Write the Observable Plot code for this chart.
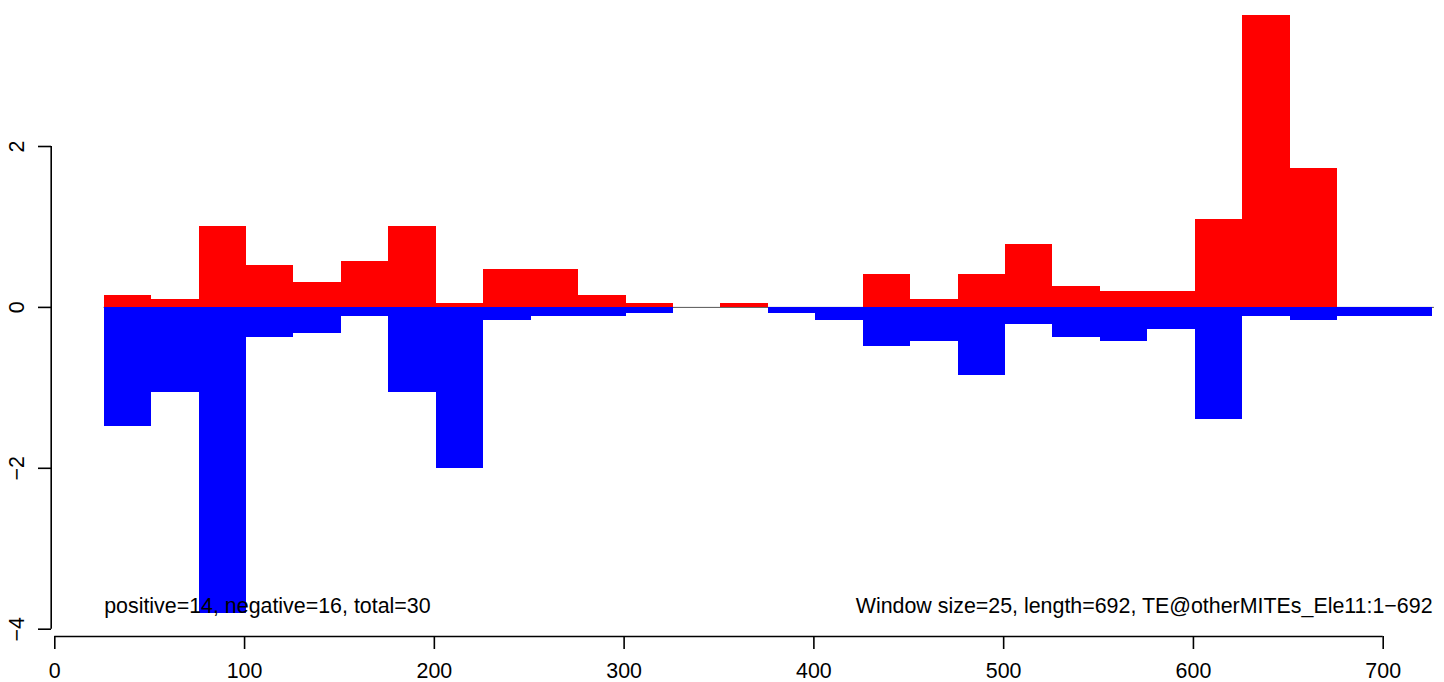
<!DOCTYPE html>
<html>
<head>
<meta charset="utf-8">
<script src="https://cdn.jsdelivr.net/npm/d3@7"></script>
<script src="https://cdn.jsdelivr.net/npm/@observablehq/plot@0.6"></script>
<style>
  html, body { margin: 0; padding: 0; background: #fff; }
  #chart svg { display: block; }
</style>
</head>
<body>
<div id="chart"></div>
<script>
// Window starts (1-based positions, window size 25)
const starts = [26, 51, 76, 101, 126, 151, 176, 201, 226, 251, 276, 301, 326, 351,
                376, 401, 426, 451, 476, 501, 526, 551, 576, 601, 626, 651, 676, 701];
const windowSize = 25;
// Positive (red) values per window
const pos = [0.15, 0.10, 1.00, 0.52, 0.31, 0.57, 1.00, 0.05, 0.47, 0.47, 0.15, 0.05, 0, 0.05,
             0, 0, 0.41, 0.10, 0.41, 0.78, 0.26, 0.20, 0.20, 1.09, 3.63, 1.73, 0, 0];
// Negative (blue) values per window
const neg = [-1.48, -1.06, -3.80, -0.38, -0.33, -0.11, -1.06, -2.00, -0.16, -0.11, -0.11, -0.07, 0, 0,
             -0.07, -0.16, -0.49, -0.43, -0.85, -0.21, -0.38, -0.43, -0.28, -1.39, -0.11, -0.16, -0.11, -0.11];
const xTicks = [0, 100, 200, 300, 400, 500, 600, 700];
const yTicks = [-4, -2, 0, 2];
const leftLabel = "positive=14, negative=16, total=30";
const rightLabel = "Window size=25, length=692, TE@otherMITEs_Ele11:1\u2212692";

const posData = starts.map((s, i) => ({x1: s, x2: s + windowSize, v: pos[i]}));
const negData = starts.map((s, i) => ({x1: s, x2: s + windowSize, v: neg[i]}));
const xEnd = starts[starts.length - 1] + windowSize;
const fmt = d => (d < 0 ? "\u2212" + Math.abs(d) : String(d));
const FS = 21.4;

const chart = Plot.plot({
  width: 1444,
  height: 682,
  marginLeft: 51,
  marginRight: 0,
  marginTop: 0,
  marginBottom: 46,
  x: {domain: [0, 700], range: [54.3, 1382.7], label: null},
  y: {domain: [-4, 2], range: [628.7, 146], label: null},
  style: {fontFamily: "'Liberation Sans', Arial, Helvetica, sans-serif", fontSize: FS + "px", background: "white", color: "black"},
  marks: [
    Plot.ruleY([0], {x1: starts[0], x2: xEnd + 1, stroke: "#555", strokeWidth: 1}),
    Plot.rectY(posData, {x1: "x1", x2: "x2", y1: 0, y2: "v", fill: "#FF0000", shapeRendering: "crispEdges"}),
    Plot.rectY(negData, {x1: "x1", x2: "x2", y1: 0, y2: "v", fill: "#0000FF", shapeRendering: "crispEdges"}),
    // axis lines
    Plot.ruleY([yTicks[0]], {x1: xTicks[0], x2: xTicks[xTicks.length - 1], dy: 7.3, stroke: "black", strokeWidth: 1.6}),
    Plot.ruleX([xTicks[0]], {y1: yTicks[0], y2: yTicks[yTicks.length - 1], dx: -3.6, stroke: "black", strokeWidth: 1.6}),
    Plot.axisX({ticks: xTicks, tickSize: 13, tickPadding: 13, fontSize: FS, strokeWidth: 1.6, tickFormat: fmt, label: null}),
    Plot.axisY({ticks: yTicks, tickSize: 13, tickPadding: 14.5, tickRotate: -90, fontSize: FS, strokeWidth: 1.6, tickFormat: fmt, label: null}),
    Plot.text([leftLabel], {x: starts[0], y: d3.min(neg), text: d => d, textAnchor: "start", lineAnchor: "bottom", fontSize: FS, fill: "black"}),
    Plot.text([rightLabel], {x: xEnd, y: d3.min(neg), text: d => d, textAnchor: "end", lineAnchor: "bottom", fontSize: FS, fill: "black"})
  ]
});
document.getElementById("chart").appendChild(chart);
</script>
</body>
</html>
